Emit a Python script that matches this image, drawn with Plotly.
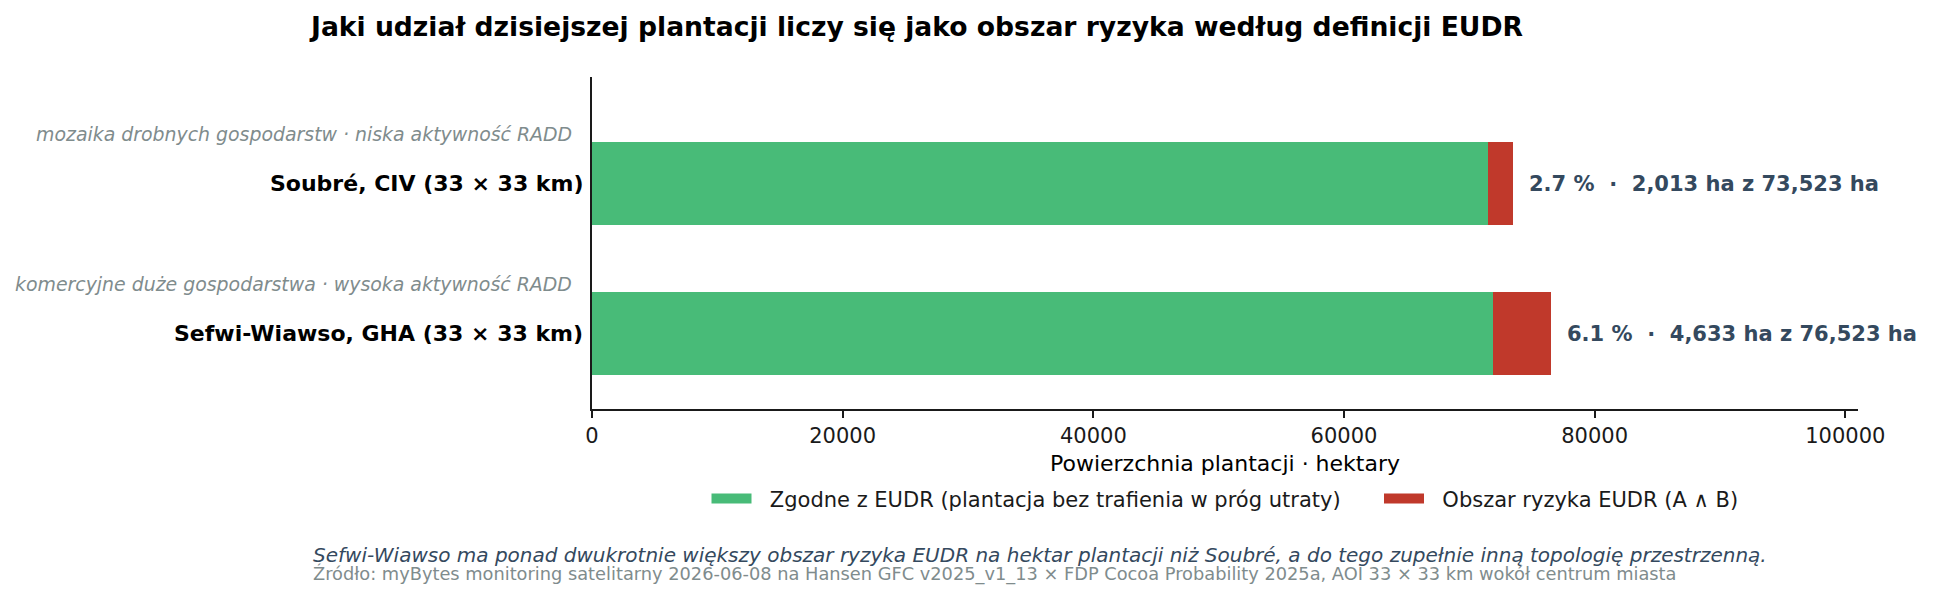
import plotly.graph_objects as go

# --- data ---
regions = ["Sefwi-Wiawso, GHA (33 × 33 km)", "Soubré, CIV (33 × 33 km)"]
subtitles = ["komercyjne duże gospodarstwa · wysoka aktywność RADD",
             "mozaika drobnych gospodarstw · niska aktywność RADD"]
total_ha = [76523, 73523]
risk_ha = [4633, 2013]
risk_pct = [6.1, 2.7]
compliant_ha = [t - r for t, r in zip(total_ha, risk_ha)]
x_ticks = [0, 20000, 40000, 60000, 80000, 100000]
series_names = ["Zgodne z EUDR (plantacja bez trafienia w próg utraty)",
                "Obszar ryzyka EUDR (A ∧ B)"]

GREEN = "#48bb78"
RED = "#c0392b"
SLATE = "#34495e"
GREY = "#7f8c8d"
FONT = "DejaVu Sans"
NB = "\u00a0"

ypos = list(range(len(regions)))

fig = go.Figure()
legend_labels = [NB * 2 + series_names[0] + NB * 5, NB * 2 + series_names[1]]
for vals, color, name, lab in [(compliant_ha, GREEN, series_names[0], legend_labels[0]),
                               (risk_ha, RED, series_names[1], legend_labels[1])]:
    fig.add_trace(go.Bar(
        y=ypos, x=vals, orientation="h", width=0.55,
        marker=dict(color=color, line=dict(width=0)),
        name=name, showlegend=False, legendgroup=name,
        hoverinfo="skip"))
    # legend-only entry drawn as a wide patch
    fig.add_trace(go.Scatter(
        x=[None], y=[None], mode="lines",
        line=dict(color=color, width=13),
        name=lab, legendgroup=name, showlegend=True, hoverinfo="skip"))

annotations = []
for i, (name, sub, tot, rsk, pct) in enumerate(zip(regions, subtitles, total_ha, risk_ha, risk_pct)):
    annotations.append(dict(
        x=0, xref="paper", y=i, yref="y", text=f"<b>{name}</b>",
        xanchor="right", yanchor="middle", xshift=-7, showarrow=False,
        font=dict(family=FONT, size=22, color="#000000")))
    annotations.append(dict(
        x=0, xref="paper", y=i + 0.333, yref="y", text=f"<i>{sub}</i>",
        xanchor="right", yanchor="middle", xshift=-18, showarrow=False,
        font=dict(family=FONT, size=18.9, color=GREY)))
    annotations.append(dict(
        x=tot, xref="x", y=i, yref="y",
        text=f"<b>{pct:.1f} %  ·  {rsk:,} ha z {tot:,} ha</b>",
        xanchor="left", yanchor="middle", xshift=14, showarrow=False,
        font=dict(family=FONT, size=21, color=SLATE)))

annotations.append(dict(
    x=-0.222, xref="paper", y=-0.44, yref="paper",
    text="<i>Sefwi-Wiawso ma ponad dwukrotnie większy obszar ryzyka EUDR na hektar plantacji niż Soubré, a do tego zupełnie inną topologię przestrzenną.</i>",
    xanchor="left", yanchor="middle", showarrow=False,
    font=dict(family=FONT, size=20, color=SLATE)))
annotations.append(dict(
    x=-0.222, xref="paper", y=-0.497, yref="paper",
    text="Źródło: myBytes monitoring satelitarny 2026-06-08 na Hansen GFC v2025_v1_13 × FDP Cocoa Probability 2025a, AOI 33 × 33 km wokół centrum miasta",
    xanchor="left", yanchor="middle", showarrow=False,
    font=dict(family=FONT, size=17.8, color=GREY)))

fig.update_layout(
    width=1933, height=600,
    barmode="stack",
    plot_bgcolor="white", paper_bgcolor="white",
    margin=dict(l=592, r=75, t=77, b=191),
    font=dict(family=FONT, size=21, color="#000000"),
    title=dict(
        text="<b>Jaki udział dzisiejszej plantacji liczy się jako obszar ryzyka według definicji EUDR</b>",
        x=311 / 1933, xanchor="left", xref="container",
        y=1 - 27 / 600, yanchor="middle", yref="container",
        font=dict(family=FONT, size=26.6, color="#000000")),
    xaxis=dict(
        range=[0, 101010], tickvals=x_ticks, tickformat="d",
        showgrid=False, zeroline=False,
        showline=True, linecolor="#1a1a1a", linewidth=2,
        ticks="outside", ticklen=7, tickwidth=1.5, tickcolor="#1a1a1a",
        tickfont=dict(family=FONT, size=21, color="#1a1a1a"),
        title=dict(text="Powierzchnia plantacji · hektary", standoff=8,
                   font=dict(family=FONT, size=22, color="#000000"))),
    yaxis=dict(
        range=[-0.503, 1.71], showticklabels=False, ticks="",
        showgrid=False, zeroline=False,
        showline=True, linecolor="#1a1a1a", linewidth=2),
    legend=dict(
        orientation="h", x=0.5, xanchor="center", y=-0.271, yanchor="middle",
        font=dict(family=FONT, size=21, color="#1a1a1a"),
        bgcolor="rgba(0,0,0,0)", traceorder="normal", itemwidth=40),
    annotations=annotations,
    showlegend=True,
)

fig.write_html("out.html")
